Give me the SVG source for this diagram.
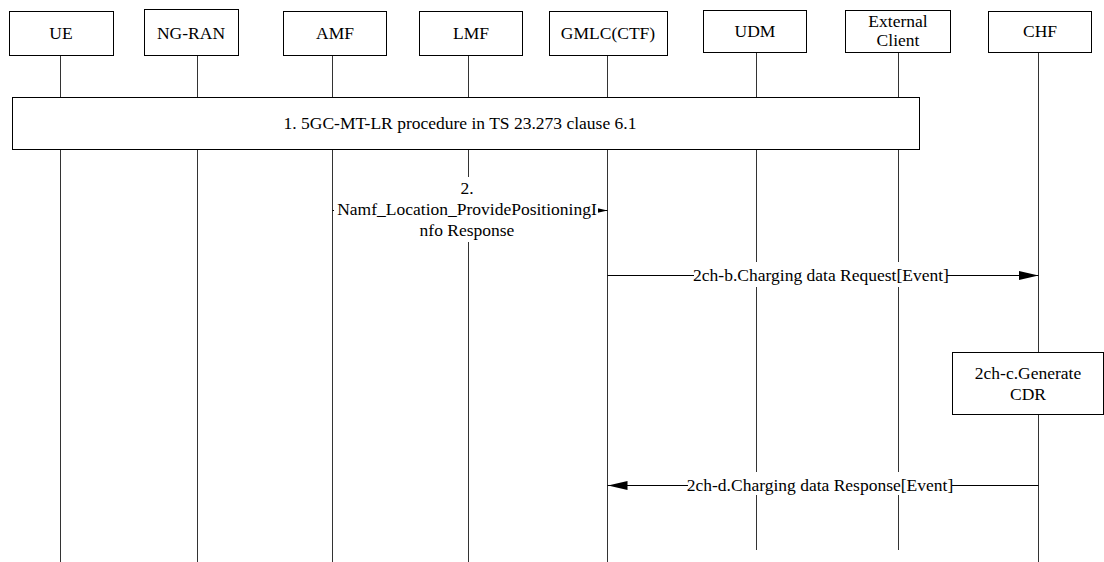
<svg xmlns="http://www.w3.org/2000/svg" width="1104" height="562" viewBox="0 0 1104 562">
<style>
.box{fill:#fff;stroke:#000;stroke-width:1}
.life{stroke:#333;stroke-width:1;fill:none}
.msg{stroke:#000;stroke-width:1;fill:none}
text{font-family:'Liberation Serif',Tinos,'Times New Roman','DejaVu Serif',serif;font-size:17.5px;fill:#000;text-anchor:middle}
.bg{fill:#fff;stroke:none}
</style>
<defs>
<marker id="ah" markerWidth="20" markerHeight="9" refX="20" refY="4.5" orient="auto" markerUnits="userSpaceOnUse">
<path d="M0,0 L20,4.5 L0,9 Z" fill="#000"/>
</marker>
</defs>
<g id="lifelines">
<line class="life" x1="60.5" y1="55" x2="60.5" y2="562"/>
<line class="life" x1="197.5" y1="55" x2="197.5" y2="562"/>
<line class="life" x1="332.5" y1="55" x2="332.5" y2="562"/>
<line class="life" x1="468.5" y1="55" x2="468.5" y2="562"/>
<line class="life" x1="607.5" y1="55" x2="607.5" y2="562"/>
<line class="life" x1="756.5" y1="52" x2="756.5" y2="550"/>
<line class="life" x1="898.5" y1="52" x2="898.5" y2="550"/>
<line class="life" x1="1038.5" y1="52" x2="1038.5" y2="562"/>
</g>
<g id="UE"><rect class="box" x="9.5" y="11.5" width="104" height="44"/><text x="61" y="39">UE</text></g>
<g id="NG-RAN"><rect class="box" x="144.5" y="9.5" width="94" height="46"/><text x="191" y="39">NG-RAN</text></g>
<g id="AMF"><rect class="box" x="283.5" y="11.5" width="103" height="44"/><text x="335" y="39">AMF</text></g>
<g id="LMF"><rect class="box" x="419.5" y="11.5" width="103" height="44"/><text x="471" y="39">LMF</text></g>
<g id="GMLC"><rect class="box" x="549.5" y="11.5" width="118" height="44"/><text x="608" y="39">GMLC(CTF)</text></g>
<g id="UDM"><rect class="box" x="703.5" y="10.5" width="103" height="42"/><text x="755" y="37">UDM</text></g>
<g id="ExternalClient"><rect class="box" x="845.5" y="10.5" width="105" height="42"/><text x="898" y="27">External</text><text x="898" y="46">Client</text></g>
<g id="CHF"><rect class="box" x="988.5" y="11.5" width="103" height="41"/><text x="1040" y="37">CHF</text></g>
<g id="step1"><rect class="box" x="12.5" y="97.5" width="907" height="52"/><text x="460" y="129">1. 5GC-MT-LR procedure in TS 23.273 clause 6.1</text></g>
<g id="step2c"><rect class="box" x="952.5" y="352.5" width="151" height="62"/><text x="1028" y="379">2ch-c.Generate</text><text x="1028" y="400">CDR</text></g>
<g id="connectors">
<line class="msg" x1="332.5" y1="210.5" x2="607.5" y2="210.5" marker-end="url(#ah)"/>
<rect class="bg" x="334" y="177" width="264" height="65"/>
<text x="467" y="194">2.</text>
<text x="467" y="215">Namf_Location_ProvidePositioningI</text>
<text x="467" y="236">nfo Response</text>
<line class="msg" x1="607.5" y1="275.5" x2="1038.5" y2="275.5" marker-end="url(#ah)"/>
<rect class="bg" x="694" y="262" width="253" height="25"/>
<text x="821" y="281">2ch-b.Charging data Request[Event]</text>
<line class="msg" x1="1038.5" y1="485.5" x2="607.5" y2="485.5" marker-end="url(#ah)"/>
<rect class="bg" x="688" y="472" width="264" height="23"/>
<text x="820" y="491">2ch-d.Charging data Response[Event]</text>
</g>
</svg>
